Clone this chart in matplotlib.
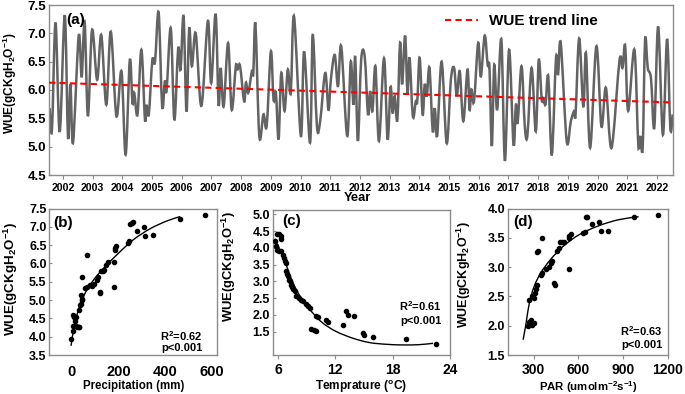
import numpy as np
import matplotlib.pyplot as plt
from matplotlib.path import Path
from matplotlib.patches import PathPatch

# ---- panel (a): monthly WUE, turning points ----
years = [2001.55, 2001.63, 2001.75, 2001.89, 2002.06, 2002.17, 2002.25, 2002.34, 2002.53, 2002.63,
         2002.73, 2002.84, 2002.98, 2003.15, 2003.29, 2003.46, 2003.61, 2003.80, 2003.97, 2004.11,
         2004.25, 2004.34, 2004.40, 2004.51, 2004.64, 2004.76, 2004.81, 2004.89, 2005.01, 2005.10,
         2005.22, 2005.34, 2005.43, 2005.49, 2005.63, 2005.75, 2005.88, 2005.96, 2006.06, 2006.16,
         2006.25, 2006.34, 2006.47, 2006.66, 2006.88, 2006.99, 2007.14, 2007.24, 2007.31, 2007.41,
         2007.56, 2007.68, 2007.82, 2007.87, 2007.96, 2008.10, 2008.16, 2008.24, 2008.36, 2008.41,
         2008.48, 2008.61, 2008.75, 2008.86, 2009.00, 2009.09, 2009.17, 2009.26, 2009.35, 2009.46,
         2009.57, 2009.67, 2009.78, 2010.01, 2010.12, 2010.32, 2010.41, 2010.55, 2010.66, 2010.83,
         2010.94, 2011.02, 2011.15, 2011.26, 2011.37, 2011.57, 2011.69, 2011.78, 2011.84, 2011.93,
         2012.04, 2012.16, 2012.27, 2012.34, 2012.42, 2012.52, 2012.64, 2012.81, 2012.93, 2013.03,
         2013.10, 2013.17, 2013.26, 2013.35, 2013.42, 2013.52, 2013.60, 2013.67, 2013.78, 2013.88,
         2013.93, 2014.01, 2014.11, 2014.18, 2014.25, 2014.34, 2014.45, 2014.52, 2014.60, 2014.75,
         2014.92, 2015.06, 2015.17, 2015.26, 2015.36, 2015.48, 2015.62, 2015.69, 2015.75, 2015.84,
         2015.98, 2016.07, 2016.20, 2016.30, 2016.36, 2016.44, 2016.52, 2016.62, 2016.76, 2016.88,
         2017.02, 2017.17, 2017.25, 2017.31, 2017.44, 2017.55, 2017.64, 2017.78, 2017.92, 2018.02,
         2018.12, 2018.18, 2018.25, 2018.34, 2018.46, 2018.60, 2018.67, 2018.76, 2018.96, 2019.10,
         2019.21, 2019.26, 2019.38, 2019.52, 2019.61, 2019.75, 2019.96, 2020.13, 2020.28, 2020.47,
         2020.74, 2020.84, 2020.93, 2021.03, 2021.24, 2021.37, 2021.44, 2021.52, 2021.60, 2021.69,
         2021.80, 2021.91, 2022.04, 2022.20, 2022.34, 2022.45, 2022.53]
wue = [5.68, 5.30, 7.19, 5.26, 7.32, 5.16, 6.10, 5.07, 6.96, 6.24,
       7.20, 5.54, 7.06, 6.18, 6.97, 5.74, 7.03, 5.54, 6.33, 4.86,
       6.53, 5.77, 5.95, 5.57, 6.71, 5.48, 5.74, 5.57, 6.53, 6.50,
       7.37, 5.71, 6.15, 6.00, 7.09, 5.48, 6.74, 6.36, 7.30, 5.62,
       7.09, 6.42, 7.00, 5.72, 7.22, 6.12, 7.34, 5.74, 6.39, 5.71,
       6.83, 5.65, 6.42, 6.35, 6.43, 5.80, 6.13, 5.95, 6.33, 6.30,
       7.17, 5.19, 5.57, 5.37, 6.68, 5.83, 5.95, 5.13, 6.30, 5.63,
       6.36, 5.95, 7.30, 5.19, 6.68, 5.07, 6.97, 5.37, 5.45, 6.30,
       5.65, 6.18, 6.62, 6.07, 6.77, 5.19, 6.50, 5.74, 6.59, 5.10,
       6.53, 6.59, 5.57, 5.98, 5.63, 6.42, 5.10, 6.56, 5.13, 6.05,
       5.60, 5.89, 5.48, 6.83, 6.10, 6.96, 5.95, 6.57, 5.54, 5.80,
       5.80, 6.57, 5.57, 6.10, 5.89, 6.39, 5.27, 5.68, 5.19, 6.50,
       5.06, 6.18, 6.39, 5.89, 6.33, 5.45, 6.36, 5.65, 6.01, 5.80,
       6.83, 6.24, 6.96, 6.44, 6.40, 5.01, 6.44, 5.65, 6.89, 4.75,
       6.71, 5.04, 5.74, 5.42, 6.42, 5.36, 5.21, 6.39, 5.27, 6.53,
       5.83, 5.86, 5.75, 6.24, 4.86, 6.56, 6.27, 6.83, 5.10, 5.45,
       5.63, 5.57, 6.91, 5.71, 6.65, 4.98, 6.77, 5.36, 6.04, 4.98,
       6.53, 6.39, 6.78, 5.63, 6.71, 5.04, 5.19, 4.98, 6.89, 6.39,
       6.20, 5.33, 7.12, 5.21, 6.90, 5.33, 5.57]
trend_years = [2001.53, 2022.54]
trend_wue = [6.13, 5.78]
year_ticks = list(range(2002, 2023))

# ---- panel (b): precipitation ----
prec = [-3, 4, 7, 4, 10, 19, 14, 19, 24, 29, 31, 33, 36, 40, 43, 39, 46, 43, 64, 57,
        67, 79, 86, 97, 107, 114, 119, 119, 126, 133, 139, 147, 154, 179, 183, 190, 186, 181,
        240, 247, 250, 257, 261, 279, 310, 314, 347, 464, 569]
wue_prec = [3.93, 4.16, 4.30, 4.58, 4.55, 4.55, 4.44, 4.30, 4.26, 4.27, 4.26, 4.72, 4.86, 4.90,
            5.04, 5.13, 4.99, 5.62, 6.22, 5.32, 5.36, 5.41, 5.38, 5.43, 5.55, 5.62, 5.22, 5.18,
            5.78, 5.78, 5.82, 5.96, 6.03, 6.03, 6.38, 6.47, 6.42, 5.36, 6.56, 6.61, 7.07, 7.11,
            7.14, 6.88, 7.00, 6.74, 6.79, 7.22, 7.32]
prec_fit_x = [-3, 14, 36, 64, 107, 150, 200, 264, 336, 407, 464]
prec_fit_y = [3.75, 4.40, 4.86, 5.27, 5.66, 5.96, 6.28, 6.65, 6.95, 7.16, 7.28]

# ---- panel (c): temperature ----
temp = [5.65, 5.75, 5.89, 6.07, 6.28, 6.34, 5.89, 6.10, 6.34, 6.52, 6.62, 6.70, 6.81, 6.87,
        6.98, 7.04, 7.16, 7.29, 7.40, 7.50, 7.57, 7.75, 7.92, 8.20, 8.44, 8.62, 8.89, 9.14,
        9.38, 9.49, 9.73, 9.95, 10.02, 10.22, 11.06, 11.24, 12.81, 13.09, 13.33, 13.94, 14.91,
        15.01, 15.95, 19.36, 22.51]
wue_temp = [4.20, 4.05, 4.40, 4.42, 4.35, 4.27, 3.95, 3.90, 3.90, 3.80, 3.70, 3.60, 3.55, 3.30,
            3.23, 3.15, 3.05, 3.00, 2.90, 2.83, 2.77, 2.70, 2.57, 2.50, 2.45, 2.40, 2.33, 2.25,
            2.20, 1.57, 1.55, 1.53, 1.95, 1.92, 1.85, 1.80, 1.70, 2.10, 2.00, 1.95, 1.45, 1.40,
            1.35, 1.28, 1.13]
temp_fit_x = [5.65, 6.52, 7.23, 7.92, 8.79, 9.66, 10.71, 12.10, 13.85, 15.60, 17.34, 19.09, 20.84, 22.23]
temp_fit_y = [4.27, 3.75, 3.20, 2.75, 2.35, 2.05, 1.75, 1.50, 1.30, 1.17, 1.12, 1.10, 1.11, 1.15]

# ---- panel (d): PAR ----
par = [261, 272, 283, 293, 304, 272, 287, 304, 309, 315, 322, 326, 333, 348, 354, 359, 381,
       403, 414, 424, 435, 442, 457, 468, 474, 490, 501, 534, 540, 551, 534, 632, 643, 649,
       660, 693, 741, 753, 796, 970, 1134]
wue_par = [2.00, 2.07, 2.10, 2.01, 2.04, 2.44, 2.50, 2.47, 2.56, 2.62, 2.70, 3.26, 3.27, 2.86,
           2.90, 3.50, 2.96, 3.00, 3.07, 3.10, 2.73, 2.70, 3.27, 3.33, 3.43, 3.43, 3.43, 3.49,
           3.53, 3.56, 2.96, 3.59, 3.60, 3.85, 3.85, 3.73, 3.77, 3.62, 3.62, 3.86, 3.89]
par_fit_x = [230, 250, 272, 304, 348, 414, 501, 610, 741, 872, 1003]
par_fit_y = [1.76, 2.04, 2.39, 2.67, 2.90, 3.13, 3.36, 3.56, 3.71, 3.81, 3.86]

plt.rcParams['font.family'] = ['Liberation Sans', 'DejaVu Sans']
plt.rcParams['font.weight'] = 'bold'
plt.rcParams['axes.labelweight'] = 'bold'
plt.rcParams['mathtext.fontset'] = 'custom'
plt.rcParams['mathtext.rm'] = 'Liberation Sans:bold'
plt.rcParams['mathtext.it'] = 'Liberation Sans:bold'
plt.rcParams['mathtext.bf'] = 'Liberation Sans:bold'

SPINE = '#8c8c8c'
WUE_LABEL = r'WUE(gCKgH$_2$O$^{-1}$)'


def smooth_line(ax, x, y, **kw):
    # smooth curve through the points (Catmull-Rom as cubic bezier path)
    x = np.asarray(x, float)
    y = np.asarray(y, float)
    px = np.concatenate([[x[0]], x, [x[-1]]])
    py = np.concatenate([[y[0]], y, [y[-1]]])
    verts = [(x[0], y[0])]
    codes = [Path.MOVETO]
    for i in range(1, len(px) - 2):
        c1 = (px[i] + (px[i + 1] - px[i - 1]) / 6, py[i] + (py[i + 1] - py[i - 1]) / 6)
        c2 = (px[i + 1] - (px[i + 2] - px[i]) / 6, py[i + 1] - (py[i + 2] - py[i]) / 6)
        verts += [c1, c2, (px[i + 1], py[i + 1])]
        codes += [Path.CURVE4] * 3
    ax.add_patch(PathPatch(Path(verts, codes), fill=False, **kw))


def style(ax):
    for s in ax.spines.values():
        s.set_color(SPINE)
        s.set_linewidth(1.0)


def stats(ax, x, y1, y2, r2):
    ax.text(x, y1, r'R$^2$=' + r2, transform=ax.transAxes, fontsize=8, ha='right', va='center')
    ax.text(x, y2, 'p<0.001', transform=ax.transAxes, fontsize=8, ha='right', va='center')


W, H = 685, 394
fig = plt.figure(figsize=(6.85, 3.94), dpi=100)


def rect(l, t, r, b):
    return [l / W, 1 - b / H, (r - l) / W, (b - t) / H]


# ---------------- (a) ----------------
ax = fig.add_axes(rect(49, 5, 673, 175))
style(ax)
smooth_line(ax, years, wue, edgecolor='#636363', lw=1.8, zorder=2)
ax.plot(trend_years, trend_wue, color='red', lw=1.5, dashes=(3, 2), zorder=3,
        label='WUE trend line')
ax.set_xlim(2001.53, 2022.54)
ax.set_ylim(4.5, 7.5)
ax.set_yticks(np.arange(4.5, 7.51, 0.5))
ax.set_xticks(year_ticks)
ax.tick_params(axis='x', direction='out', length=3, color=SPINE, labelsize=7.6, pad=2.5)
ax.tick_params(axis='y', direction='in', length=2, color=SPINE, labelsize=9.5, pad=2)
ax.set_ylabel(WUE_LABEL, fontsize=8.6)
ax.yaxis.set_label_coords(-0.048, 0.54)
ax.set_xlabel('Year', fontsize=9.3)
ax.xaxis.set_label_coords(0.494, -0.1)
ax.text(0.028, 0.912, '(a)', transform=ax.transAxes, fontsize=11, va='center')
ax.legend(loc='center left', bbox_to_anchor=(0.622, 0.906), frameon=False, fontsize=11,
          borderpad=0, handlelength=2.2, handletextpad=0.7)

# ---------------- (b) ----------------
ax = fig.add_axes(rect(49.3, 208.5, 216.7, 355))
style(ax)
ax.scatter(prec, wue_prec, s=9, color='black', zorder=3)
smooth_line(ax, prec_fit_x, prec_fit_y, edgecolor='black', lw=1.0)
ax.set_xlim(-96, 620)
ax.set_ylim(3.5, 7.5)
ax.set_xticks([0, 200, 400, 600])
ax.set_yticks(np.arange(3.5, 7.51, 0.5))
ax.tick_params(axis='x', length=0, labelsize=10.5, pad=7)
ax.tick_params(axis='y', direction='in', length=2, color=SPINE, labelsize=9, pad=2)
ax.set_xlabel('Precipitation (mm)', fontsize=8.3)
ax.xaxis.set_label_coords(0.503, -0.172)
ax.set_ylabel(WUE_LABEL, fontsize=9.6)
ax.yaxis.set_label_coords(-0.178, 0.52)
ax.text(0.022, 0.904, '(b)', transform=ax.transAxes, fontsize=11, va='center')
stats(ax, 0.918, 0.13, 0.045, '0.62')

# ---------------- (c) ----------------
ax = fig.add_axes(rect(272.7, 210, 450, 355))
style(ax)
ax.scatter(temp, wue_temp, s=9, color='black', zorder=3)
smooth_line(ax, temp_fit_x, temp_fit_y, edgecolor='black', lw=1.0)
ax.set_xlim(5.45, 24.0)
ax.set_ylim(0.8, 5.13)
ax.set_xticks([6, 12, 18, 24])
ax.set_yticks(np.arange(1.5, 5.01, 0.5))
ax.tick_params(axis='x', direction='out', length=3, color=SPINE, labelsize=10, pad=3)
ax.tick_params(axis='y', direction='in', length=2, color=SPINE, labelsize=9, pad=2)
ax.set_xlabel(r'Temprature ($^{o}$C)', fontsize=8.6)
ax.xaxis.set_label_coords(0.5, -0.163)
ax.set_ylabel(WUE_LABEL, fontsize=9.4)
ax.yaxis.set_label_coords(-0.196, 0.61)
ax.text(0.052, 0.924, '(c)', transform=ax.transAxes, fontsize=11, va='center')
stats(ax, 0.955, 0.34, 0.235, '0.61')

# ---------------- (d) ----------------
ax = fig.add_axes(rect(507.7, 208.5, 668, 355))
style(ax)
ax.scatter(par, wue_par, s=9, color='black', zorder=3)
smooth_line(ax, par_fit_x, par_fit_y, edgecolor='black', lw=1.0)
ax.set_xlim(127, 1200)
ax.set_ylim(1.5, 4.0)
ax.set_xticks([300, 600, 900, 1200])
ax.set_yticks(np.arange(1.5, 4.01, 0.5))
ax.tick_params(axis='x', direction='out', length=3, color=SPINE, labelsize=10, pad=3)
ax.tick_params(axis='y', direction='in', length=2, color=SPINE, labelsize=9, pad=2)
ax.set_xlabel(r'PAR (umolm$^{-2}$s$^{-1}$)', fontsize=8.2)
ax.xaxis.set_label_coords(0.5, -0.168)
ax.set_ylabel(WUE_LABEL, fontsize=9)
ax.yaxis.set_label_coords(-0.216, 0.55)
ax.text(0.033, 0.908, '(d)', transform=ax.transAxes, fontsize=11, va='center')
stats(ax, 0.963, 0.165, 0.065, '0.63')

fig.savefig('out.png', dpi=100)
